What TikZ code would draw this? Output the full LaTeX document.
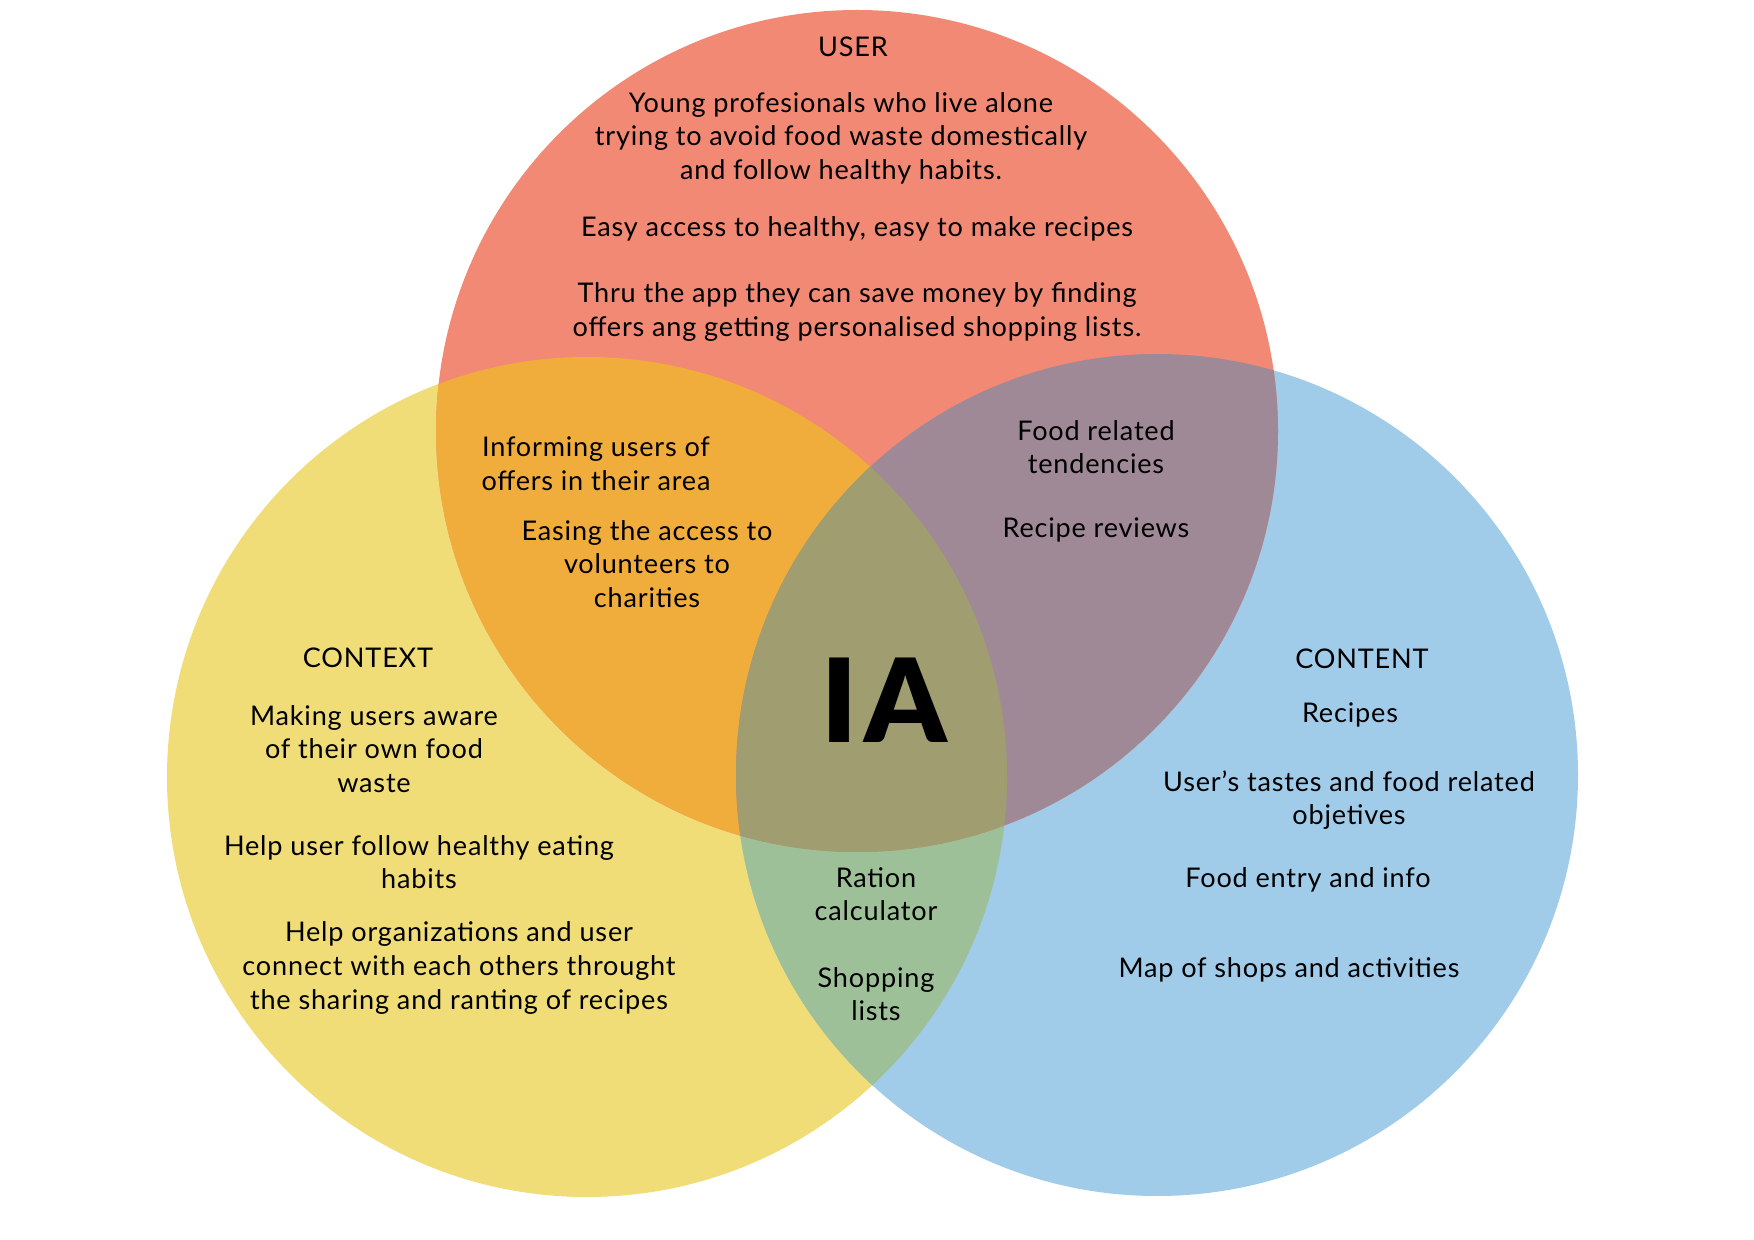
\documentclass[tikz,border=0pt]{standalone}
\usepackage{fontspec}
\setmainfont{Lato}[LetterSpace=3]
\newfontfamily\iafont{Lato Black}[LetterSpace=6]
\definecolor{userred}{HTML}{F18974}
\definecolor{ctxyellow}{HTML}{F0DD78}
\definecolor{cntblue}{HTML}{A0CBE9}
\definecolor{ucorange}{HTML}{F0AD3C}
\definecolor{uomauve}{HTML}{A08996}
\definecolor{cogreen}{HTML}{9EC098}
\definecolor{allolive}{HTML}{A09E70}
\begin{document}
\begin{tikzpicture}[x=0.01cm,y=-0.01cm,
  txt/.style={align=center,inner sep=0pt,font=\fontsize{7.7}{9.56}\selectfont,text=black},
  ttl/.style={txt}]
\useasboundingbox (0,0) rectangle (1754,1240);
\fill[white] (0,0) rectangle (1754,1240);
% the three sets
\def\userc{(857,431) circle (421)}
\def\ctxc{(587,777) circle (420)}
\def\cntc{(1157,775) circle (421)}
\fill[ctxyellow] \ctxc;
\fill[cntblue] \cntc;
\fill[userred] \userc;
% pairwise overlaps
\begin{scope}
  \clip \ctxc;
  \fill[cogreen] \cntc;
\end{scope}
\begin{scope}
  \clip \userc;
  \fill[ucorange] \ctxc;
\end{scope}
\begin{scope}
  \clip \userc;
  \fill[uomauve] \cntc;
\end{scope}
% centre of all three
\begin{scope}
  \clip \userc;
  \clip \ctxc;
  \fill[allolive] \cntc;
\end{scope}

% USER
\node[ttl] (user) at (853,47) {USER};
\node[txt] (userA) at (841,138) {Young profesionals who live alone\\trying to avoid food waste domestically\\and follow healthy habits.};
\node[txt] (userB) at (857,229) {Easy access to healthy, easy to make recipes};
\node[txt] (userC) at (857,312) {Thru the app they can save money by finding\\offers ang getting personalised shopping lists.};

% USER and CONTEXT
\node[txt] (ucA) at (596,464) {Informing users of\\offers in their area};
\node[txt] (ucB) at (647,564) {Easing the access to\\volunteers to\\charities};

% USER and CONTENT
\node[txt] (uoA) at (1096,447) {Food related\\tendencies};
\node[txt] (uoB) at (1096,530) {Recipe reviews};

% centre
\node[inner sep=0pt] (ia) at (884,700) {\iafont\fontsize{33}{33}\selectfont IA};

% CONTEXT
\node[ttl] (context) at (368,658) {CONTEXT};
\node[txt] (ctxA) at (374,749) {Making users aware\\of their own food\\waste};
\node[txt] (ctxB) at (419,862) {Help user follow healthy eating\\habits};
\node[txt] (ctxC) at (459,968) {Help organizations and user\\connect with each others throught\\the sharing and ranting of recipes};

% CONTEXT and CONTENT
\node[txt] (coA) at (876,894) {Ration\\calculator};
\node[txt] (coB) at (876,994) {Shopping\\lists};

% CONTENT
\node[ttl] (content) at (1362,659) {CONTENT};
\node[txt] (cntA) at (1350,715) {Recipes};
\node[txt] (cntB) at (1349,800) {User’s tastes and food related\\objetives};
\node[txt] (cntC) at (1308,880) {Food entry and info};
\node[txt] (cntD) at (1289,970) {Map of shops and activities};
\end{tikzpicture}
\end{document}
